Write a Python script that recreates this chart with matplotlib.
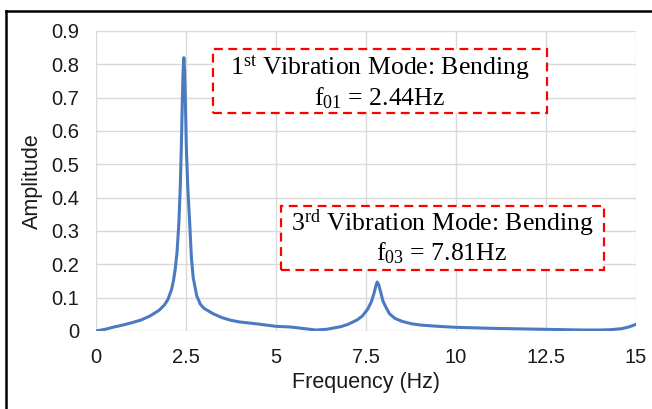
import matplotlib
matplotlib.use("Agg")
import matplotlib.pyplot as plt
from matplotlib.patches import Rectangle
from matplotlib.lines import Line2D

plt.rcParams['mathtext.fontset'] = 'custom'
plt.rcParams['mathtext.rm'] = 'Liberation Serif'
plt.rcParams['mathtext.it'] = 'Liberation Serif:italic'

freq = [0, 0.25, 0.5, 0.75, 1.0, 1.25, 1.5, 1.75, 1.9, 2.0, 2.1, 2.15, 2.2, 2.25,
        2.3, 2.34, 2.37, 2.4, 2.42, 2.44, 2.46, 2.48, 2.51, 2.55, 2.6, 2.65, 2.7,
        2.8, 2.9, 3.0, 3.25, 3.5, 3.75, 4.0, 4.5, 5.0, 5.4, 5.8, 6.1, 6.4, 6.8,
        7.0, 7.25, 7.4, 7.55, 7.65, 7.72, 7.78, 7.81, 7.85, 7.9, 7.97, 8.05, 8.15,
        8.3, 8.5, 8.75, 9.0, 9.5, 10, 11, 12, 12.5, 13, 13.5, 14, 14.3, 14.6, 14.8, 15]
amp = [0.0, 0.005, 0.012, 0.018, 0.025, 0.033, 0.045, 0.062, 0.078, 0.095, 0.125,
       0.15, 0.185, 0.235, 0.32, 0.43, 0.55, 0.70, 0.78, 0.82, 0.78, 0.70, 0.55,
       0.43, 0.33, 0.22, 0.16, 0.105, 0.08, 0.068, 0.052, 0.04, 0.032, 0.027, 0.021,
       0.014, 0.012, 0.007, 0.003, 0.005, 0.013, 0.02, 0.033, 0.045, 0.066, 0.088,
       0.112, 0.138, 0.147, 0.14, 0.12, 0.09, 0.072, 0.052, 0.038, 0.029, 0.022,
       0.018, 0.014, 0.011, 0.008, 0.006, 0.005, 0.004, 0.003, 0.003, 0.004, 0.007,
       0.012, 0.02]

xticks = [0, 2.5, 5, 7.5, 10, 12.5, 15]
xticklabels = ['0', '2.5', '5', '7.5', '10', '12.5', '15']
yticks = [0, 0.1, 0.2, 0.3, 0.4, 0.5, 0.6, 0.7, 0.8, 0.9]
yticklabels = ['0', '0.1', '0.2', '0.3', '0.4', '0.5', '0.6', '0.7', '0.8', '0.9']

W, H = 652, 409
fig = plt.figure(figsize=(W / 100, H / 100), dpi=100)
ax = fig.add_axes([96 / W, 1 - 331 / H, 540 / W, 300 / H])

ax.plot(freq, amp, color='#4a7bc0', lw=2.2, solid_capstyle='round',
        solid_joinstyle='round', zorder=3)
ax.set_xlim(0, 15)
ax.set_ylim(0, 0.9)
ax.set_xticks(xticks)
ax.set_xticklabels(xticklabels)
ax.set_yticks(yticks)
ax.set_yticklabels(yticklabels)
ax.grid(True, color='#d9d9d9', lw=1.0)
ax.set_axisbelow(True)
for s in ax.spines.values():
    s.set_visible(False)
ax.tick_params(length=0, labelsize=14.5, colors='#1a1a1a')
ax.tick_params(axis='x', pad=12)
ax.tick_params(axis='y', pad=12)
for lab in ax.get_xticklabels() + ax.get_yticklabels():
    lab.set_fontfamily('Liberation Sans')
ax.set_xlabel('Frequency (Hz)', fontsize=15.5, family='Liberation Sans', labelpad=4,
              color='#1a1a1a')
ax.set_ylabel('Amplitude', fontsize=15.5, family='Liberation Sans', labelpad=6,
              color='#1a1a1a')

def px(x, y):
    return x / W, 1 - y / H

# annotation boxes
for (x0, y0, x1, y1) in [(213, 49, 547, 113), (281, 206, 604, 270)]:
    fx0, fy1 = px(x0, y0)
    fx1, fy0 = px(x1, y1)
    fig.patches.append(Rectangle((fx0, fy0), fx1 - fx0, fy1 - fy0, transform=fig.transFigure,
                                 fill=True, facecolor='white', edgecolor='#ff0000', lw=1.6,
                                 linestyle=(0, (4, 2.5)), zorder=5))

tkw = dict(ha='center', va='center', fontsize=18.5, family='Liberation Serif', color='black', zorder=6)
fig.text(*px(380, 68), '1$^{\\mathrm{st}}$ Vibration Mode: Bending', **tkw)
fig.text(*px(380, 98), 'f$_{\\mathrm{01}}$ = 2.44Hz', **tkw)
fig.text(*px(442, 223), '3$^{\\mathrm{rd}}$ Vibration Mode: Bending', **tkw)
fig.text(*px(442, 253), 'f$_{\\mathrm{03}}$ = 7.81Hz', **tkw)

# outer border (top and left visible)
fig.add_artist(Line2D([5.5 / W, 1.0], [1 - 10.5 / H, 1 - 10.5 / H], transform=fig.transFigure,
                      color='black', lw=1.8))
fig.add_artist(Line2D([5.5 / W, 5.5 / W], [0, 1 - 10.5 / H], transform=fig.transFigure,
                      color='black', lw=1.8))

fig.savefig('out.png', dpi=100)
